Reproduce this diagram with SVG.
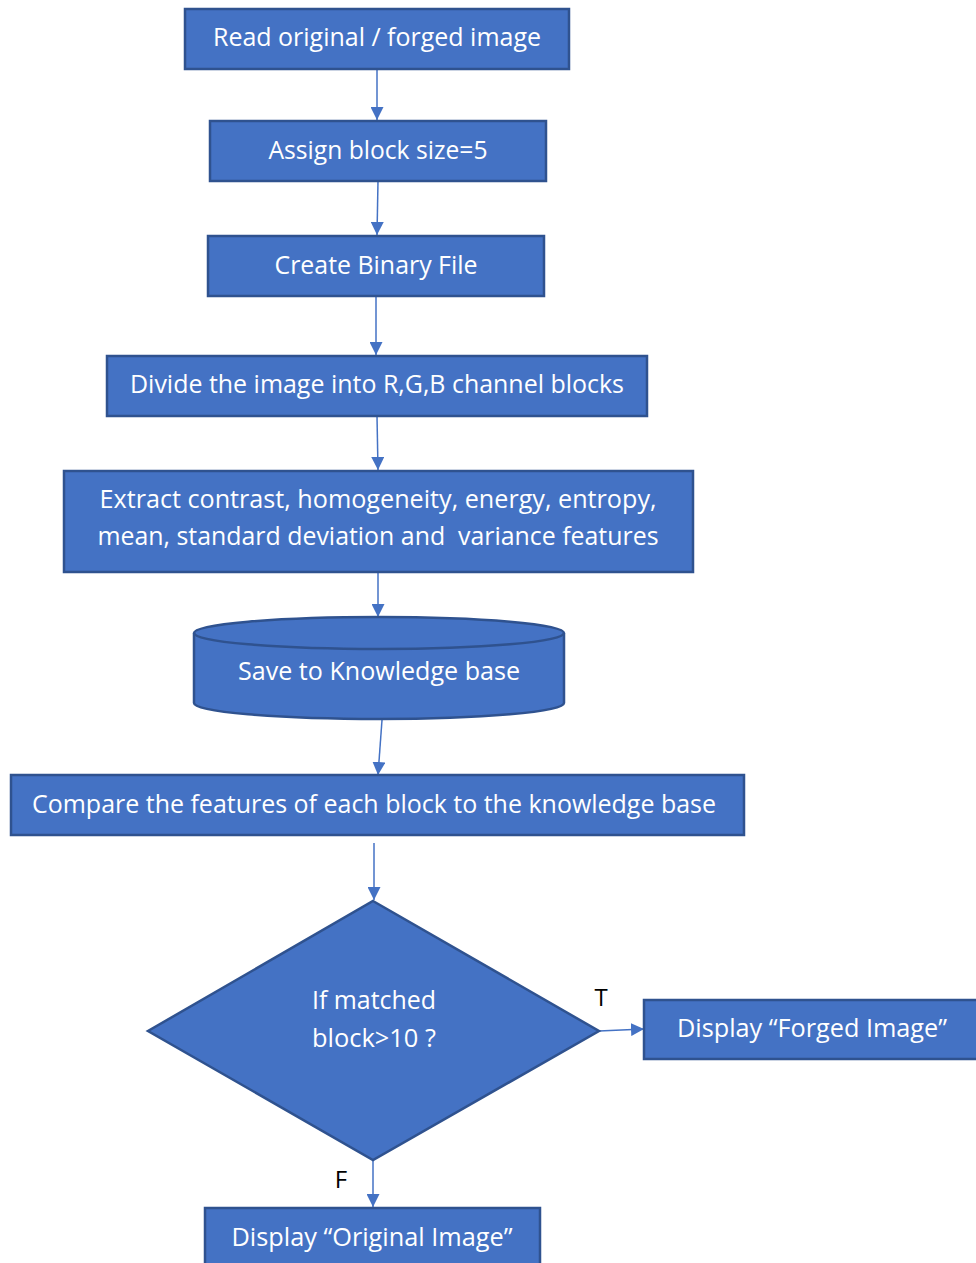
<svg xmlns="http://www.w3.org/2000/svg" width="976" height="1263" viewBox="0 0 976 1263">
<defs>
<style>
.n{fill:#4472C4;stroke:#2F528F;stroke-width:2.5}
.t{fill:#ffffff;font-family:"Open Sans","Liberation Sans",sans-serif;font-size:25px;text-anchor:middle}
.l{fill:#000000;font-family:"Open Sans","Liberation Sans",sans-serif;font-size:24px;text-anchor:middle}
.c{stroke:#4472C4;stroke-width:1.5;fill:none;marker-end:url(#ah)}
</style>
<marker id="ah" viewBox="0 0 10 10" refX="10" refY="5" markerWidth="13" markerHeight="13" markerUnits="userSpaceOnUse" orient="auto">
<path d="M0,0 L10,5 L0,10 z" fill="#4472C4"/>
</marker>
</defs>
<rect width="976" height="1263" fill="#ffffff"/>
<g id="connectors">
<line class="c" x1="377" y1="69" x2="377" y2="120"/>
<line class="c" x1="378" y1="181" x2="377" y2="235"/>
<line class="c" x1="376" y1="296" x2="376" y2="355"/>
<line class="c" x1="377" y1="416" x2="378" y2="470"/>
<line class="c" x1="378" y1="572" x2="378" y2="617"/>
<line class="c" x1="382" y1="720" x2="378" y2="775"/>
<line class="c" x1="374" y1="843" x2="374" y2="900"/>
<line class="c" x1="599" y1="1031" x2="644" y2="1029"/>
<line class="c" x1="373" y1="1160" x2="373" y2="1207"/>
</g>
<g id="n1"><rect class="n" x="185" y="9" width="384" height="60"/><text class="t" x="377" y="46" textLength="328" lengthAdjust="spacingAndGlyphs">Read original / forged image</text></g>
<g id="n2"><rect class="n" x="210" y="121" width="336" height="60"/><text class="t" x="378" y="159" textLength="219" lengthAdjust="spacingAndGlyphs">Assign block size=5</text></g>
<g id="n3"><rect class="n" x="208" y="236" width="336" height="60"/><text class="t" x="376" y="274" textLength="203" lengthAdjust="spacingAndGlyphs">Create Binary File</text></g>
<g id="n4"><rect class="n" x="107" y="356" width="540" height="60"/><text class="t" x="377" y="393" textLength="494" lengthAdjust="spacingAndGlyphs">Divide the image into R,G,B channel blocks</text></g>
<g id="n5"><rect class="n" x="64" y="471" width="629" height="101"/><text class="t" x="378" y="508" textLength="557" lengthAdjust="spacingAndGlyphs">Extract contrast, homogeneity, energy, entropy,</text><text class="t" x="378" y="545" textLength="561" lengthAdjust="spacingAndGlyphs" xml:space="preserve">mean, standard deviation and  variance features</text></g>
<g id="n6"><path class="n" d="M194,633 A185,16 0 0 1 564,633 L564,703 A185,16 0 0 1 194,703 Z"/><path d="M194,633 A185,16 0 0 0 564,633" fill="none" stroke="#2F528F" stroke-width="2.5"/><text class="t" x="379" y="680" textLength="282" lengthAdjust="spacingAndGlyphs">Save to Knowledge base</text></g>
<g id="n7"><rect class="n" x="11" y="775" width="733" height="60"/><text class="t" x="374" y="813" textLength="684" lengthAdjust="spacingAndGlyphs">Compare the features of each block to the knowledge base</text></g>
<g id="n8"><polygon class="n" points="373,901 599,1031 373,1160 148,1031"/><text class="t" x="374" y="1009" textLength="124" lengthAdjust="spacingAndGlyphs">If matched</text><text class="t" x="374" y="1047" textLength="124" lengthAdjust="spacingAndGlyphs">block&gt;10 ?</text></g>
<g id="n9"><rect class="n" x="644" y="1000" width="340" height="59"/><text class="t" x="812" y="1037" textLength="270" lengthAdjust="spacingAndGlyphs">Display “Forged Image”</text></g>
<g id="n10"><rect class="n" x="205" y="1208" width="335" height="70"/><text class="t" x="372" y="1246" textLength="281" lengthAdjust="spacingAndGlyphs">Display “Original Image”</text></g>
<g id="labels"><text class="l" x="601" y="1006">T</text><text class="l" x="341" y="1188">F</text></g>
</svg>
